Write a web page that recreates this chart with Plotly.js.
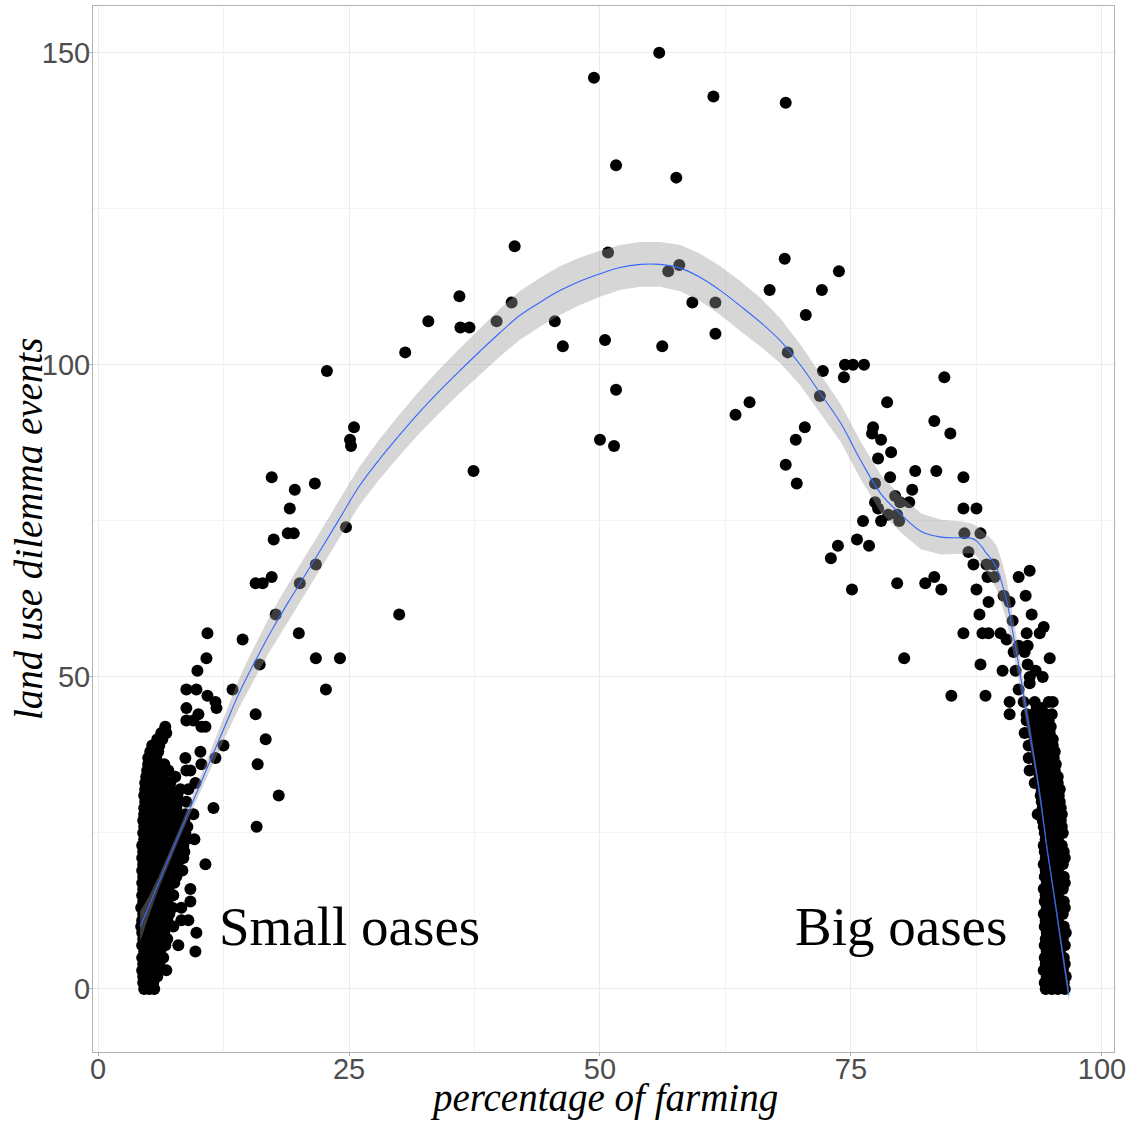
<!DOCTYPE html>
<html>
<head>
<meta charset="utf-8">
<script src="https://cdn.plot.ly/plotly-3.0.1.min.js"></script>
<style>html,body{margin:0;padding:0;background:#fff}#chart{width:1131px;height:1122px}</style>
</head>
<body>
<div id="chart"></div>
<script>
// ---- Data: small oases cluster (one row of x values per event count) ----
const smallRowsY = [0,1,2,3,4,5,6,7,8,9,10,11,12,13,14,15,16,17,18,19,20,21,22,23,24,25,26,27,28,29,30,31,32,33,34,35,36,37,38,39,40,41,42,43,44,45,46,47,48,51,53,57];
const smallRowsX = [
  [4.6,5.1,5.6],[4.5,5.0,5.5],[4.5,5.2,5.9],[4.4,5.0,5.7,6.8],[4.5,5.3,6.1],
  [4.4,5.0,5.8,6.5],[4.6,5.4,6.2,9.7],[4.4,5.1,5.9,6.7,8.0],[4.5,5.3,6.1,6.9],[4.4,5.0,5.8,6.6,9.8],
  [4.3,5.1,5.9,6.8,7.5],[4.4,5.2,6.0,6.9,8.3,9.0],[4.5,5.3,6.2,7.1],[4.3,5.0,5.8,6.6,7.4,8.3],[4.5,5.3,6.1,6.9,9.2],
  [4.4,5.1,5.9,6.7,7.5],[4.5,5.3,6.2,7.0,9.2],[4.4,5.2,6.0,6.8,7.6],[4.5,5.3,6.1,7.0,7.8],[4.4,5.2,6.0,6.9,7.7,8.4],
  [4.5,5.3,6.2,7.1,7.9,10.7],[4.4,5.2,6.0,6.8,7.6,8.5],[4.5,5.3,6.1,7.0,7.8,8.6],[4.4,5.2,6.0,6.9,7.7,8.5],[4.6,5.4,6.2,7.0,7.9,8.8,9.6],
  [4.5,5.3,6.1,7.0,7.8,8.7],[4.6,5.4,6.2,7.1,8.0,8.9],[4.5,5.3,6.1,6.9,7.8,8.6],[4.6,5.4,6.3,7.1,7.9,8.7,9.5],[4.6,5.4,6.2,7.0,7.8,11.5],
  [4.7,5.5,6.3,7.1,8.0,8.8],[4.6,5.4,6.2,7.0,7.9],[4.7,5.5,6.4,7.2,8.2,9.0],[4.7,5.5,6.3,7.2,9.7],[4.8,5.6,6.5,7.7],
  [4.9,5.7,6.5,7.0,8.8,9.2],[5.0,5.8,6.6,10.3],[5.0,5.8,8.7,11.7],[5.2,6.0,10.2],[5.4,6.1,12.5],
  [5.9,6.4],[6.3,6.8],[6.7,10.3,10.7],[8.8,9.5],[10.0],[8.8,11.8],[11.7],[10.9],[8.8,9.8,13.4],[9.9],[10.8],[10.9]
];
// ---- Data: big oases cluster ----
const bigRowsY = [0,1,2,3,4,5,6,7,8,9,10,11,12,13,14,15,16,17,18,19,20,21,22,23,24,25,26,27,28,29,30,31,32,33,34,35,36,37,38,39,40,41,42,43,44,45];
const bigRowsX = [
  [94.4,95.0,95.6,96.3],[94.3,94.9,95.5,96.2],[94.5,95.1,95.7,96.4],[94.2,94.8,95.4,96.1],[94.4,95.0,95.6,96.3],
  [94.3,94.9,95.5,96.2],[94.5,95.1,95.8],[94.3,94.9,95.5,96.3],[94.4,95.0,95.6,96.1],[94.5,95.1,95.7,96.4],
  [94.3,94.9,95.5,96.2],[94.4,95.0,95.6],[94.2,94.8,95.4,96.1],[94.5,95.1,95.7,96.3],[94.3,94.9,95.5,96.2],
  [94.4,95.0,95.6],[94.2,94.8,95.4,96.1],[94.5,95.1,95.7,96.3],[94.3,94.9,95.5,96.2],[94.4,95.0,95.6],
  [94.2,94.8,95.4,96.1],[94.4,95.0,95.6,96.3],[94.3,94.9,95.5,96.2],[94.2,94.8,95.4,96.0],[94.4,95.0,95.6],
  [94.3,94.9,95.5,96.1],[94.2,94.8,95.4,96.0],[94.1,94.7,95.3,95.9],[93.6,94.2,94.8,95.4,96.0],[94.1,94.7,95.3,95.9],
  [94.0,94.6,95.2,95.8],[93.9,94.5,95.1,95.7],[94.0,94.6,95.2,95.8],[93.3,93.9,94.5,95.1,95.6],[93.8,94.4,95.0,95.6],
  [92.8,93.5,94.1,94.7,95.3],[93.6,94.2,94.8,95.4],[92.7,93.4,94.0,94.6,95.2],[93.5,94.1,94.7,95.3],[92.7,93.3,93.9,94.5,95.1],
  [93.3,93.9,94.5,95.1],[92.3,93.0,93.6,94.2,94.8],[93.1,93.7,94.3,94.9],[92.5,92.9,93.5,94.1,94.7],[92.5,93.2,93.8,94.4,95.0],[93.5,94.0]
];
// ---- Data: scattered oases (x = percentage of farming, y = events) ----
const midX = [14.4,16.1,15.7,16.7,15.9,18.0,15.8,17.3,19.6,21.6,19.1,18.9,19.5,17.5,24.7,21.7,15.7,16.4,17.3,20.1,17.7,30.0,20.0,21.7,24.1,22.7,25.5,25.1,25.2,22.8,30.6,37.4,
  55.9,49.4,61.3,68.5,51.6,57.6,41.5,50.8,57.9,56.8,68.4,73.8,36.0,36.1,37.0,32.9,39.7,41.2,45.5,46.3,50.5,56.2,59.2,61.5,61.5,66.9,72.1,70.5,68.7,72.2,51.6,50.0,51.4,63.5,64.9,
  74.4,75.2,76.3,74.3,84.3,71.9,78.6,83.3,84.9,70.4,69.5,68.5,69.6,77.2,77.1,78.0,79.0,77.7,78.9,81.4,83.5,86.2,77.4,81.1,79.4,79.9,80.8,77.4,77.7,78.7,79.6,79.8,78.0,76.2,86.2,87.5,86.3,87.9,86.7,75.6,76.8,73.7,73.0,
  87.2,88.5,89.2,88.6,89.3,91.7,83.3,82.4,79.6,84.0,75.1,87.5,90.2,90.8,88.7,87.8,91.1,86.2,88.1,88.7,89.9,90.5,80.3,91.2,87.9,90.1,91.4,91.7,85.0,88.4,90.8,90.8,
  92.8,92.4,93.0,94.2,93.8,92.5,91.7,92.6,92.3,94.8,92.6,93.4,94.1,92.8,92.8,92.2,93.3,94.7,95.1];
const midY = [56,52,44,40,36,31,26,82,80,81,77,73,73,72,74,68,65,65,66,65,60,60,57,53,53,48,90,88,87,99,102,83,
  150,146,143,142,132,130,119,118,116,115,117,115,111,106,106,107,107,110,107,103,104,103,110,110,105,112,112,108,102,99,96,88,87,92,94,
  100,100,100,98,98,95,94,91,89,90,88,84,81,90,89,88,86,85,82,83,83,82,81,80,79,78,78,78,77,76,76,75,75,75,77,77,73,73,70,72,71,71,69,
  68,68,68,66,66,66,66,65,65,64,64,64,63,62,62,60,59,57,57,57,57,56,53,54,52,51,51,48,47,47,46,44,
  67,63,60,58,57,57,55,55,54,53,52,51,50,50,49,46,46,46,46];
// ---- Data: loess smooth with confidence band ----
const fitX = [4.2,5,6,7,8,9,10,11,12,13,14,15,16,17,18,19,20,22,24,26,28,30,32,34,36,38,40,42,44,46,48,50,52,54,56,58,60,62,64,66,68,70,72,74,76,78,80,82,84,86,87,87.5,88,88.5,89,89.5,90,90.5,91,91.5,92,92.5,93,93.5,94,94.5,95,95.5,96,96.7];
const fitY = [10.0,13.0,16.9,20.7,24.5,28.3,32.1,35.9,39.7,43.5,47.2,50.5,53.6,56.6,59.4,62.1,64.7,69.9,75.2,80.5,84.8,88.7,92.4,95.8,99.0,102.1,105.1,107.9,110.0,111.9,113.4,114.6,115.6,116.1,116.1,115.5,114.0,111.9,109.4,106.8,103.8,99.9,95.3,90.6,84.6,79.3,76.0,73.3,72.4,72.3,72.2,71.8,70.9,69.8,68.8,67.5,65.2,62.3,58.2,53.8,49.0,44.2,39.3,34.5,29.0,22.8,17.5,12.1,6.5,-1.0];
const fitLower = [7.6,11.4,15.9,19.9,23.7,27.4,31.0,34.5,38.0,41.5,44.9,48.0,50.9,53.8,56.5,59.1,61.7,66.9,72.2,77.4,81.6,85.4,89.0,92.3,95.4,98.4,101.3,104.0,106.1,108.0,109.6,110.9,112.0,112.5,112.5,111.8,110.2,108.0,105.4,102.9,100.2,96.6,92.2,87.6,81.6,76.3,73.1,70.4,69.6,69.7,69.8,69.4,68.3,66.8,65.5,64.0,61.7,59.0,55.2,51.2,46.8,42.4,37.9,33.4,28.1,22.0,16.7,11.3,5.6,-2.2];
const fitUpper = [12.4,14.6,17.9,21.5,25.3,29.2,33.2,37.3,41.4,45.5,49.5,53.0,56.3,59.4,62.3,65.1,67.7,72.9,78.2,83.6,88.0,92.0,95.8,99.3,102.6,105.8,108.9,111.8,113.9,115.8,117.2,118.3,119.2,119.7,119.7,119.2,117.8,115.8,113.4,110.7,107.4,103.2,98.4,93.6,87.6,82.3,78.9,76.2,75.2,74.9,74.6,74.2,73.5,72.8,72.1,71.0,68.7,65.6,61.2,56.4,51.2,46.0,40.7,35.6,29.9,23.6,18.3,12.9,7.4,0.2];
// ---- Labels ----
const xTicks = [0,25,50,75,100];
const yTicks = [0,50,100,150];
const groupLabels = ['Small oases','Big oases'];
const groupLabelX = [25,80];
const groupLabelY = [10,10];

// ---- Build point arrays from the rows ----
const ptsX = [], ptsY = [];
function addRows(ys, xs) { ys.forEach((y,i) => xs[i].forEach(x => { ptsX.push(x); ptsY.push(y); })); }
addRows(smallRowsY, smallRowsX);
addRows(bigRowsY, bigRowsX);
midX.forEach((x,i) => { ptsX.push(x); ptsY.push(midY[i]); });

const serif = 'Liberation Serif, Times New Roman, serif';
const sans = 'Liberation Sans, Arial, sans-serif';

const traces = [
  { type:'scatter', mode:'markers', x:ptsX, y:ptsY, marker:{color:'#000000', size:12, line:{width:0}}, hoverinfo:'skip', showlegend:false },
  { type:'scatter', mode:'lines', x:fitX.concat(fitX.slice().reverse()), y:fitUpper.concat(fitLower.slice().reverse()),
    fill:'toself', fillcolor:'rgba(153,153,153,0.4)', line:{width:0, color:'rgba(0,0,0,0)'}, hoverinfo:'skip', showlegend:false },
  { type:'scatter', mode:'lines', x:fitX, y:fitY, line:{color:'#3366FF', width:1.1, shape:'spline'}, hoverinfo:'skip', showlegend:false }
];

const axisCommon = {
  showline:true, mirror:true, linecolor:'#B3B3B3', linewidth:1,
  ticks:'outside', ticklen:3, tickwidth:1, tickcolor:'#B3B3B3',
  showgrid:true, gridcolor:'#EBEBEB', gridwidth:1, zeroline:false,
  tickfont:{family:sans, size:29, color:'#4D4D4D'}
};

const layout = {
  width:1131, height:1122,
  margin:{l:93, r:17, t:6, b:70},
  paper_bgcolor:'#ffffff', plot_bgcolor:'#ffffff',
  showlegend:false,
  xaxis: Object.assign({}, axisCommon, {range:[-0.5,101.2], tickmode:'array', tickvals:xTicks, ticktext:xTicks.map(String),
    ticklabelstandoff:-12,
    minor:{dtick:12.5, tick0:0, showgrid:true, gridcolor:'#F3F3F3', gridwidth:1, ticks:''}}),
  yaxis: Object.assign({}, axisCommon, {range:[-10.1,157.5], tickmode:'array', tickvals:yTicks, ticktext:yTicks.map(String),
    ticklabelstandoff:-7,
    minor:{dtick:25, tick0:0, showgrid:true, gridcolor:'#F3F3F3', gridwidth:1, ticks:''}}),
  annotations: [
    {text:groupLabels[0], x:groupLabelX[0], y:groupLabelY[0], xref:'x', yref:'y', showarrow:false, font:{family:serif, size:55, color:'#000000'}},
    {text:groupLabels[1], x:groupLabelX[1], y:groupLabelY[1], xref:'x', yref:'y', showarrow:false, font:{family:serif, size:55, color:'#000000'}},
    {text:'<i>percentage of farming</i>', xref:'paper', yref:'paper', x:0.5, y:0, yanchor:'top', yshift:-22, showarrow:false, font:{family:serif, size:39, color:'#000000'}},
    {text:'<i>land use dilemma events</i>', xref:'paper', yref:'paper', x:0, y:0.5, xanchor:'center', yanchor:'middle', xshift:-65, textangle:-90, showarrow:false, font:{family:serif, size:39, color:'#000000'}}
  ]
};

Plotly.newPlot('chart', traces, layout, {displayModeBar:false, staticPlot:true});
</script>
</body>
</html>
